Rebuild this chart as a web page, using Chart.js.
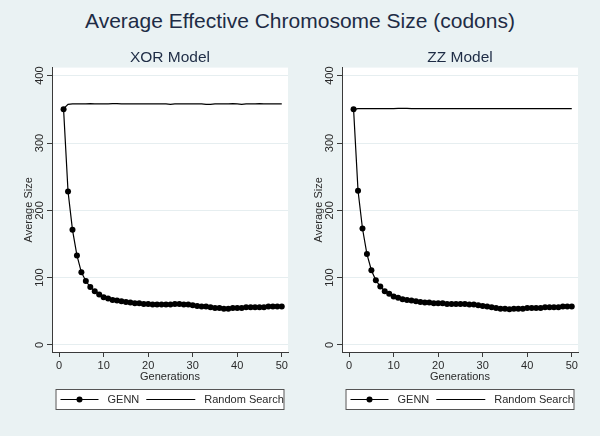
<!DOCTYPE html>
<html>
<head>
<meta charset="utf-8">
<script src="https://cdn.jsdelivr.net/npm/chart.js@4.4.0/dist/chart.umd.min.js"></script>
<style>
    body {
        margin: 0;
        width: 600px;
        height: 436px;
        overflow: hidden;
        position: relative;
        background: #eaf2f3;
        font-family: "Liberation Sans", Arial, sans-serif;
    }
    #mainTitle {
        position: absolute;
        top: 9px;
        left: 0;
        width: 600px;
        text-align: center;
        font-size: 21px;
        color: #1e2c45;
    }
    .panel {
        position: absolute;
        top: 40px;
        width: 300px;
        height: 396px;
    }
</style>
</head>
<body>
<div id="mainTitle">Average Effective Chromosome Size (codons)</div>
<div class="panel" style="left:0px"><canvas id="xorChart" width="300" height="396"></canvas></div>
<div class="panel" style="left:290px"><canvas id="zzChart" width="300" height="396"></canvas></div>

<script>
const generations = [1, 2, 3, 4, 5, 6, 7, 8, 9, 10, 11, 12, 13, 14, 15, 16, 17, 18, 19, 20,
    21, 22, 23, 24, 25, 26, 27, 28, 29, 30, 31, 32, 33, 34, 35, 36, 37, 38, 39, 40,
    41, 42, 43, 44, 45, 46, 47, 48, 49, 50];

const xorGenn = [350, 228, 171, 133, 108, 95, 86, 80, 75, 71, 69, 67, 66, 65, 64, 63, 62, 62, 61, 61,
    60, 60, 60, 60, 60, 61, 61, 60, 60, 59, 58, 57, 57, 56, 55, 55, 54, 54, 55, 55,
    55, 56, 56, 56, 56, 56, 57, 57, 57, 57];
const xorRandom = [351, 357.5, 358, 358, 358, 358, 358.5, 358, 358, 358, 358, 358.5, 358.5, 358, 358, 358, 358, 358, 358, 358,
    358, 358, 358, 358, 357.5, 358, 358, 358, 358, 358, 358, 358, 357.5, 357.5, 358, 358, 358, 358, 358.5, 358,
    357.5, 358, 358, 358, 358.5, 358, 358, 358, 358, 358];

const zzGenn = [350, 229, 173, 135, 111, 96, 87, 80, 76, 72, 70, 68, 67, 66, 65, 64, 63, 63, 62, 62,
    62, 61, 61, 61, 61, 61, 60, 60, 59, 58, 57, 56, 55, 54, 54, 53, 54, 54, 54, 55,
    55, 55, 55, 56, 56, 56, 56, 57, 57, 57];
const zzRandom = [350, 351, 351, 351, 351, 351, 351, 351, 351, 351, 351.5, 351.5, 351.5, 351, 351, 351, 351, 351, 351, 351,
    351, 351, 351, 351, 351, 351, 351, 351, 351, 351, 351, 351, 351, 351, 351, 351, 351, 351, 351, 351,
    351, 351, 351, 351, 351, 351, 351, 351, 351, 351];

const xTicks = [0, 10, 20, 30, 40, 50];
const yTicks = [0, 100, 200, 300, 400];
const seriesNames = ["GENN", "Random Search"];

const FONT = '"Liberation Sans", Arial, sans-serif';
const TEXT = "#2a2a2a";
const AXIS = "#3a3a3a";
Chart.defaults.font.family = FONT;

function points(values) {
    return generations.map((g, i) => ({ x: g, y: values[i] }));
}

// white plot region like stata s2color
const plotBackground = {
    id: "plotBackground",
    beforeDraw(chart) {
        const a = chart.chartArea;
        chart.ctx.save();
        chart.ctx.fillStyle = "#ffffff";
        chart.ctx.fillRect(a.left, a.top, a.right - a.left, a.bottom - a.top);
        chart.ctx.restore();
    }
};

// vertical y tick labels
const rotatedYTicks = {
    id: "rotatedYTicks",
    afterDraw(chart) {
        const y = chart.scales.y;
        const ctx = chart.ctx;
        ctx.save();
        ctx.font = "11px " + FONT;
        ctx.fillStyle = TEXT;
        ctx.textAlign = "center";
        ctx.textBaseline = "middle";
        y.ticks.forEach(t => {
            ctx.save();
            ctx.translate(y.right - 12.5, y.getPixelForValue(t.value));
            ctx.rotate(-Math.PI / 2);
            ctx.fillText(String(t.value), 0, 0);
            ctx.restore();
        });
        ctx.restore();
    }
};

// boxed legend under the plot
const boxedLegend = {
    id: "boxedLegend",
    afterDraw(chart) {
        const ctx = chart.ctx;
        const a = chart.chartArea;
        const w = 229, h = 21;
        const left = (a.left + a.right) / 2 - w / 2;
        const top = a.bottom + 37;
        ctx.save();
        ctx.fillStyle = "#ffffff";
        ctx.fillRect(left, top, w, h);
        ctx.strokeStyle = "#555555";
        ctx.lineWidth = 1;
        ctx.strokeRect(left + 0.5, top + 0.5, w - 1, h - 1);
        ctx.font = "11px " + FONT;
        ctx.fillStyle = TEXT;
        ctx.textBaseline = "middle";
        const sampleWidths = [38, 49];
        const cy = top + h / 2;
        let x = left + 5;
        chart.data.datasets.forEach((ds, i) => {
            ctx.strokeStyle = "#000000";
            ctx.lineWidth = 1.2;
            ctx.beginPath();
            ctx.moveTo(x, cy);
            ctx.lineTo(x + sampleWidths[i], cy);
            ctx.stroke();
            if (ds.pointRadius > 0) {
                ctx.fillStyle = "#000000";
                ctx.beginPath();
                ctx.arc(x + sampleWidths[i] / 2, cy, 3, 0, Math.PI * 2);
                ctx.fill();
            }
            x += sampleWidths[i] + 9;
            ctx.fillStyle = TEXT;
            ctx.fillText(ds.label, x, cy + 0.5);
            x += ctx.measureText(ds.label).width + 7;
        });
        ctx.restore();
    }
};

function makePanel(canvasId, title, gennValues, randomValues) {
    return new Chart(document.getElementById(canvasId), {
        type: "line",
        data: {
            datasets: [
                {
                    label: seriesNames[0],
                    data: points(gennValues),
                    borderColor: "#000000",
                    borderWidth: 1.2,
                    pointRadius: 3,
                    pointBackgroundColor: "#000000",
                    pointBorderWidth: 0,
                    tension: 0
                },
                {
                    label: seriesNames[1],
                    data: points(randomValues),
                    borderColor: "#000000",
                    borderWidth: 1.2,
                    pointRadius: 0,
                    tension: 0
                }
            ]
        },
        options: {
            responsive: false,
            animation: false,
            layout: { padding: { top: 8, right: 12, bottom: 50, left: 0 } },
            plugins: {
                legend: { display: false },
                tooltip: { enabled: false },
                title: {
                    display: true,
                    text: title,
                    fullSize: false,
                    color: "#1e2c45",
                    font: { size: 15.5, weight: "normal" },
                    padding: { top: 0, bottom: 1 }
                }
            },
            scales: {
                x: {
                    type: "linear",
                    min: -1.6,
                    max: 51.4,
                    afterBuildTicks: s => { s.ticks = xTicks.map(v => ({ value: v })); },
                    afterFit: s => { s.height = 34; },
                    grid: { drawOnChartArea: false, tickLength: 5, tickColor: AXIS },
                    border: { color: AXIS, width: 1 },
                    ticks: { font: { size: 11 }, color: TEXT, padding: 2, maxRotation: 0 },
                    title: {
                        display: true,
                        text: "Generations",
                        font: { size: 11 },
                        color: TEXT,
                        padding: { top: 0, bottom: 2 }
                    }
                },
                y: {
                    min: -10.4,
                    max: 412,
                    afterBuildTicks: s => { s.ticks = yTicks.map(v => ({ value: v })); },
                    afterFit: s => { s.width = 52; },
                    grid: { color: "#e6eef0", tickLength: 5, tickColor: AXIS },
                    border: { color: AXIS, width: 1 },
                    ticks: { display: false },
                    title: {
                        display: true,
                        text: "Average Size",
                        font: { size: 11 },
                        color: TEXT,
                        padding: { top: 22, bottom: 0 }
                    }
                }
            }
        },
        plugins: [plotBackground, rotatedYTicks, boxedLegend]
    });
}

makePanel("xorChart", "XOR Model", xorGenn, xorRandom);
makePanel("zzChart", "ZZ Model", zzGenn, zzRandom);
</script>
</body>
</html>
